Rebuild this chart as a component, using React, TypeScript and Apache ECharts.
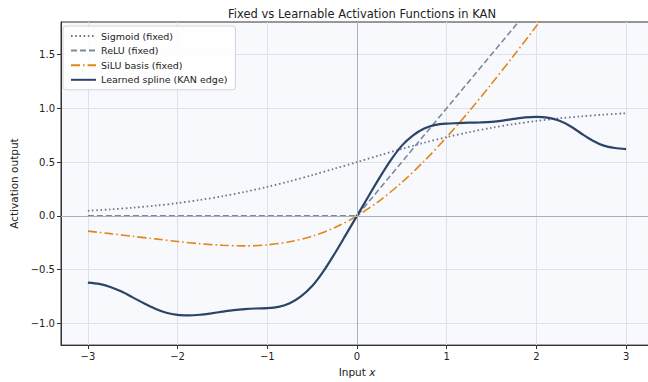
import React, { useEffect, useRef } from "react";
import * as echarts from "echarts";

const xs = [-3, -2.75, -2.5, -2.25, -2, -1.75, -1.5, -1.25, -1, -0.75, -0.5, -0.25, 0, 0.25, 0.5, 0.75, 1, 1.25, 1.5, 1.75, 2, 2.25, 2.5, 2.75, 3];
const sigmoidVals = [0.047, 0.06, 0.076, 0.095, 0.119, 0.148, 0.182, 0.223, 0.269, 0.321, 0.378, 0.438, 0.5, 0.562, 0.622, 0.679, 0.731, 0.777, 0.818, 0.852, 0.881, 0.905, 0.924, 0.94, 0.953];
const reluVals = [0, 0, 0, 0, 0, 0, 0, 0, 0, 0, 0, 0, 0, 0.25, 0.5, 0.75, 1, 1.25, 1.5, 1.75, 2, 2.25, 2.5, 2.75, 3];
const siluVals = [-0.142, -0.165, -0.19, -0.214, -0.238, -0.259, -0.273, -0.279, -0.269, -0.241, -0.189, -0.11, 0, 0.14, 0.311, 0.509, 0.731, 0.971, 1.227, 1.491, 1.762, 2.036, 2.31, 2.585, 2.858];

const splineXs = [-3, -2.875, -2.75, -2.625, -2.5, -2.375, -2.25, -2.125, -2, -1.875, -1.75, -1.625, -1.5, -1.375, -1.25, -1.125, -1, -0.875, -0.75, -0.625, -0.5, -0.375, -0.25, -0.125, 0, 0.125, 0.25, 0.375, 0.5, 0.625, 0.75, 0.875, 1, 1.125, 1.25, 1.375, 1.5, 1.625, 1.75, 1.875, 2, 2.125, 2.25, 2.375, 2.5, 2.625, 2.75, 2.875, 3];
const splineVals = [-0.62, -0.632, -0.66, -0.703, -0.757, -0.812, -0.862, -0.9, -0.92, -0.924, -0.918, -0.905, -0.89, -0.876, -0.866, -0.86, -0.857, -0.845, -0.812, -0.748, -0.652, -0.515, -0.352, -0.177, 0, 0.177, 0.352, 0.515, 0.652, 0.748, 0.812, 0.845, 0.857, 0.861, 0.865, 0.868, 0.873, 0.884, 0.9, 0.914, 0.92, 0.912, 0.885, 0.835, 0.765, 0.7, 0.652, 0.63, 0.62];

const seriesNames = ["Sigmoid (fixed)", "ReLU (fixed)", "SiLU basis (fixed)", "Learned spline (KAN edge)"];

const FONT = "DejaVu Sans";
const pairs = (xv: number[], ys: number[]) => xv.map((x, i) => [x, ys[i]]);
const minus = (v: number, d: number) => v.toFixed(d).replace("-", "\u2212");

export default function App() {
  const ref = useRef<HTMLDivElement>(null);
  useEffect(() => {
    if (!ref.current) return;
    const chart = echarts.init(ref.current, undefined, { renderer: "svg" });
    chart.setOption({
      animation: false,
      textStyle: { fontFamily: FONT },
      title: {
        text: "Fixed vs Learnable Activation Functions in KAN",
        left: 357,
        textAlign: "center",
        top: 3,
        textStyle: { fontFamily: FONT, fontSize: 11.5, fontWeight: "normal", color: "#222" },
      },
      legend: {
        orient: "vertical",
        left: 63,
        top: 26,
        itemWidth: 25,
        itemHeight: 10,
        itemGap: 4.6,
        padding: [5, 8, 5, 7],
        backgroundColor: "rgba(255,255,255,0.85)",
        borderColor: "#d0d4da",
        borderWidth: 1,
        borderRadius: 3,
        itemStyle: { opacity: 0 },
        textStyle: { fontFamily: FONT, fontSize: 9.5, color: "#222" },
        data: seriesNames,
      },
      grid: {
        left: 61,
        right: 0,
        top: 22,
        bottom: 31,
        show: true,
        backgroundColor: "#f7f9fc",
        borderColor: "#333",
        borderWidth: 1,
      },
      xAxis: {
        type: "value",
        min: -3.3,
        max: 3.3,
        interval: 1,
        axisLine: { show: true, onZero: false, lineStyle: { color: "#333" } },
        axisTick: { show: true, length: 4, lineStyle: { color: "#333" }, customValues: [-3, -2, -1, 0, 1, 2, 3] },
        axisLabel: {
          fontFamily: FONT,
          fontSize: 10,
          color: "#222",
          margin: 6,
          customValues: [-3, -2, -1, 0, 1, 2, 3],
          formatter: (v: number) => minus(v, 0),
        },
        splitLine: { show: true, lineStyle: { color: "#dde1e8", width: 1 } },
        name: "{a|Input }{b|x}",
        nameLocation: "middle",
        nameGap: 20,
        nameTextStyle: {
          rich: {
            a: { fontFamily: FONT, fontSize: 10.5, color: "#222" },
            b: { fontFamily: FONT, fontSize: 10.5, color: "#222", fontStyle: "italic" },
          },
        },
      },
      yAxis: {
        type: "value",
        min: -1.2,
        max: 1.8,
        axisLine: { show: true, onZero: false, lineStyle: { color: "#333" } },
        axisTick: { show: true, length: 4, lineStyle: { color: "#333" }, customValues: [-1, -0.5, 0, 0.5, 1, 1.5] },
        axisLabel: {
          fontFamily: FONT,
          fontSize: 10,
          color: "#222",
          margin: 6,
          customValues: [-1, -0.5, 0, 0.5, 1, 1.5],
          formatter: (v: number) => minus(v, 1),
        },
        splitLine: { show: true, lineStyle: { color: "#dde1e8", width: 1 } },
        name: "Activation output",
        nameLocation: "middle",
        nameGap: 39,
        nameTextStyle: { fontFamily: FONT, fontSize: 10.5, color: "#222" },
      },
      series: [
        {
          type: "line",
          name: "__zero",
          data: [],
          z: 1,
          silent: true,
          markLine: {
            silent: true,
            symbol: "none",
            label: { show: false },
            lineStyle: { color: "#a7afbd", width: 1, type: "solid" },
            data: [{ xAxis: 0 }, { yAxis: 0 }],
          },
        },
        {
          type: "line",
          name: seriesNames[0],
          data: pairs(xs, sigmoidVals),
          smooth: 0.3,
          symbol: "none",
          z: 3,
          color: "#6c7890",
          lineStyle: { color: "#6c7890", width: 1.8, type: [1.6, 2.6] },
        },
        {
          type: "line",
          name: seriesNames[1],
          data: pairs(xs, reluVals),
          symbol: "none",
          z: 3,
          color: "#7d889c",
          lineStyle: { color: "#7d889c", width: 1.6, type: [6, 3] },
        },
        {
          type: "line",
          name: seriesNames[2],
          data: pairs(xs, siluVals),
          smooth: 0.3,
          symbol: "none",
          z: 3,
          color: "#e3861a",
          lineStyle: { color: "#e3861a", width: 1.6, type: [9, 3, 1.6, 3] },
        },
        {
          type: "line",
          name: seriesNames[3],
          data: pairs(splineXs, splineVals),
          smooth: 0.3,
          symbol: "none",
          z: 4,
          color: "#2b4467",
          lineStyle: { color: "#2b4467", width: 2.2 },
        },
      ],
    });
    return () => chart.dispose();
  }, []);
  return (
    <div style={{ position: "fixed", left: 0, top: 0, width: 648, height: 382, overflow: "hidden", background: "#fff" }}>
      <div ref={ref} style={{ width: 653, height: 382 }} />
    </div>
  );
}
